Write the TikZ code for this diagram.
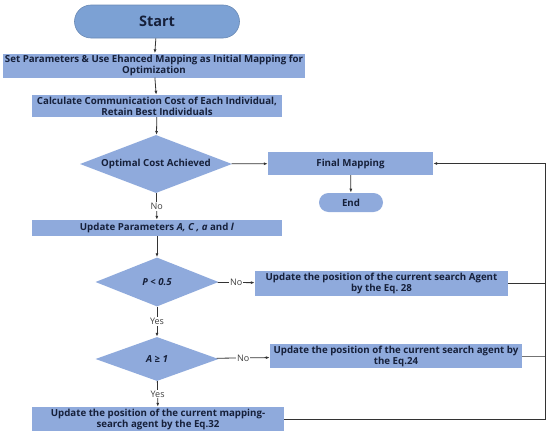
\documentclass[tikz,border=0pt]{standalone}
\usepackage{fontspec}
\setmainfont{Open Sans}
\usetikzlibrary{arrows.meta, positioning, shapes.geometric, calc}
\usepackage{xcolor}
\definecolor{fblue}{RGB}{143,170,220}
\definecolor{sblue}{RGB}{124,161,212}
\definecolor{tnavy}{RGB}{22,32,58}

\begin{document}
\frenchspacing
\begin{tikzpicture}[x=1pt,y=-1pt,
  box/.style={fill=fblue,align=center,inner sep=1pt,text=tnavy,
              font=\fontsize{9.7}{11}\selectfont\bfseries},
  dec/.style={diamond,fill=fblue,inner sep=0pt,text=tnavy,
              font=\fontsize{9.7}{11}\selectfont\bfseries},
  term/.style={fill=sblue,draw=sblue!85!black,line width=0.6pt,text=tnavy},
  flow/.style={-{Latex[length=4pt,width=3pt]},line width=0.8pt,black!80},
  lbl/.style={fill=white,inner sep=1pt,text=black!75,font=\fontsize{9}{10}\selectfont},
]
\useasboundingbox (0,0) rectangle (550,431);

% terminals
\node[term,rounded corners=16.5pt,minimum width=165pt,minimum height=33pt,
      font=\fontsize{14.5}{16}\selectfont\bfseries] (start) at (157,21.5) {Start};
\node[term,fill=fblue,draw=none,rounded corners=9.5pt,minimum width=64pt,minimum height=19pt,
      font=\fontsize{9.7}{11}\selectfont\bfseries] (end) at (351,202.5) {End};

% process boxes
\node[box,minimum width=302pt,minimum height=24pt] (init) at (154,65.5)
  {Set Parameters \& Use Ehanced Mapping as Initial Mapping for\\ Optimization};
\node[box,minimum width=250pt,minimum height=22pt] (cost) at (157,106)
  {Calculate Communication Cost of Each Individual,\\ Retain Best Individuals};
\node[box,minimum width=165pt,minimum height=23pt] (final) at (350.5,163.5) {Final Mapping};
\node[box,minimum width=250pt,minimum height=16pt] (param) at (157,228)
  {Update Parameters \textit{A, C , a} and \textit{l}};
\node[box,minimum width=253pt,minimum height=25pt] (eqa) at (381.5,283.5)
  {Update the position of the current search Agent\\ by the Eq. 28};
\node[box,minimum width=252pt,minimum height=24pt] (eqb) at (396,356)
  {Update the position of the current search agent by\\ the Eq.24};
\node[box,minimum width=252pt,minimum height=24pt] (eqc) at (158,419)
  {Update the position of the current mapping-\\ search agent by the Eq.32};

% decisions
\node[dec,minimum width=152pt,minimum height=58pt,aspect=2.6] (opt) at (156,164)
  {Optimal Cost Achieved};
\node[dec,minimum width=123pt,minimum height=49pt,aspect=2.5] (prob) at (157,282)
  {\textit{P < 0.5}};
\node[dec,minimum width=123pt,minimum height=44pt,aspect=2.8] (acoef) at (157,359)
  {\textit{A ≥ 1}};

% loop corners
\coordinate (rtop) at (545,163.5);
\coordinate (rbot) at (545,419);

% connectors
\draw[flow] (start) -- (init);
\draw[flow] (init) -- (cost);
\draw[flow] (cost) -- (opt);
\draw[flow] (opt) -- (final);
\draw[flow] (final) -- (end);
\draw[flow] (opt) -- node[lbl] {No} (param);
\draw[flow] (param) -- (prob);
\draw[flow] (prob) -- node[lbl] {No} (eqa);
\draw[flow] (prob) -- node[lbl] {Yes} (acoef);
\draw[flow] (acoef) -- node[lbl] {No} (eqb);
\draw[flow] (acoef) -- node[lbl] {Yes} (eqc);
\draw[flow] (eqc.east) -- (rbot) -- (rtop) -- (final.east);
\draw[line width=0.8pt,black!80] (eqa.east) -- (eqa.east -| rtop);
\draw[line width=0.8pt,black!55] (eqb.east) -- (eqb.east -| rtop);
\end{tikzpicture}
\end{document}
